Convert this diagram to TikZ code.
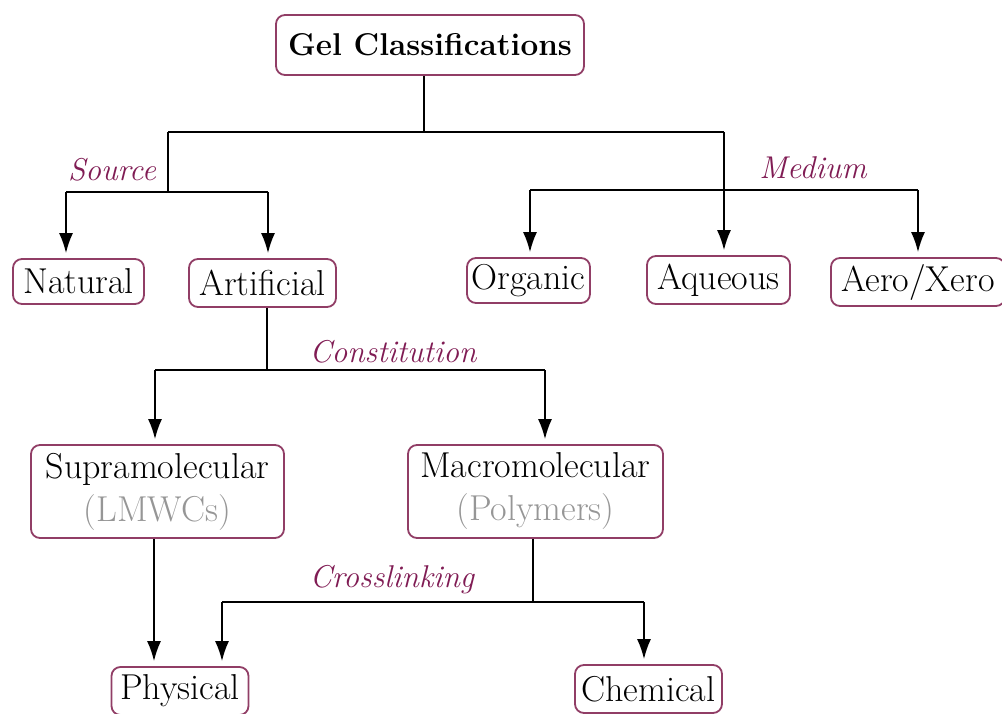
\documentclass[tikz,border=0pt]{standalone}
\usetikzlibrary{arrows.meta}
\definecolor{boxc}{RGB}{145,62,102}
\definecolor{labc}{RGB}{128,28,84}
\definecolor{grayt}{RGB}{150,150,150}
\begin{document}
\begin{tikzpicture}[x=1pt,y=-1pt,
  gbox/.style={draw=boxc, line width=1.8pt, rounded corners=9pt, inner sep=0pt,
    font=\fontsize{36}{43}\selectfont, align=center},
  ln/.style={line width=1.6pt, black},
  arr/.style={ln, -{Latex[length=20pt,width=14pt]}, shorten >=5pt},
  lab/.style={text=labc, font=\fontsize{31.5}{36}\selectfont\itshape, inner sep=0pt}]
\useasboundingbox (0,0) rectangle (1002,714);
\clip (0,0) rectangle (1002,714);
% nodes
\node[gbox, minimum width=308pt, minimum height=60pt, font=\fontsize{31.5}{38}\selectfont\bfseries] (gel) at (430,45) {Gel Classifications};
\node[gbox, minimum width=131pt, minimum height=45pt] (nat) at (78.5,281.5) {Natural};
\node[gbox, minimum width=147pt, minimum height=48pt] (art) at (262.5,283) {Artificial};
\node[gbox, minimum width=123pt, minimum height=45pt] (org) at (528.5,280.5) {Organic};
\node[gbox, minimum width=143pt, minimum height=48pt] (aq) at (718.5,280) {Aqueous};
\node[gbox, minimum width=174pt, minimum height=48pt] (ax) at (918,282) {Aero/Xero};
\node[gbox, minimum width=253pt, minimum height=93pt] (sup) at (157.5,491.5) {Supramolecular\\\textcolor{grayt}{(LMWCs)}};
\node[gbox, minimum width=255pt, minimum height=93pt] (mac) at (535.5,491.5) {Macromolecular\\\textcolor{grayt}{(Polymers)}};
\node[gbox, minimum width=137pt, minimum height=48pt] (phy) at (180,691) {Physical};
\node[gbox, minimum width=147pt, minimum height=48pt] (che) at (648.5,689) {Chemical};
% junction coordinates
\coordinate (g0) at (424,132);
\coordinate (s0) at (168,132);
\coordinate (m0) at (724,132);
\coordinate (s1) at (168,192);
\coordinate (sL) at (66,192);
\coordinate (sR) at (268,192);
\coordinate (mL) at (530,190);
\coordinate (mR) at (918,190);
\coordinate (c0) at (267,370);
\coordinate (cL) at (155,370);
\coordinate (cR) at (545,370);
\coordinate (x0) at (533,602);
\coordinate (xL) at (222,602);
\coordinate (xR) at (644,602);
% connectors
\draw[ln] (gel.south -| g0) -- (g0);
\draw[ln] (s0) -- (m0);
\draw[ln] (s0) -- (s1);
\draw[ln] (sL) -- (sR);
\draw[arr] (sL) -- (sL |- nat.north);
\draw[arr] (sR) -- (sR |- art.north);
\draw[arr] (m0) -- (m0 |- aq.north);
\draw[ln] (mL) -- (mR);
\draw[arr] (mL) -- (mL |- org.north);
\draw[arr] (mR) -- (mR |- ax.north);
\draw[ln] (art.south -| c0) -- (c0);
\draw[ln] (cL) -- (cR);
\draw[arr] (cL) -- (cL |- sup.north);
\draw[arr] (cR) -- (cR |- mac.north);
\draw[arr] (sup.south -| 154,0) -- (154,0 |- phy.north);
\draw[ln] (mac.south -| x0) -- (x0);
\draw[ln] (xL) -- (xR);
\draw[arr] (xL) -- (xL |- phy.north);
\draw[arr] (xR) -- (xR |- che.north);
% labels
\node[lab] (lsrc) at (112,170) {Source};
\node[lab] (lmed) at (813,168) {Medium};
\node[lab] (lcon) at (393,352) {Constitution};
\node[lab] (lcro) at (392,580) {Crosslinking};
\end{tikzpicture}
\end{document}
